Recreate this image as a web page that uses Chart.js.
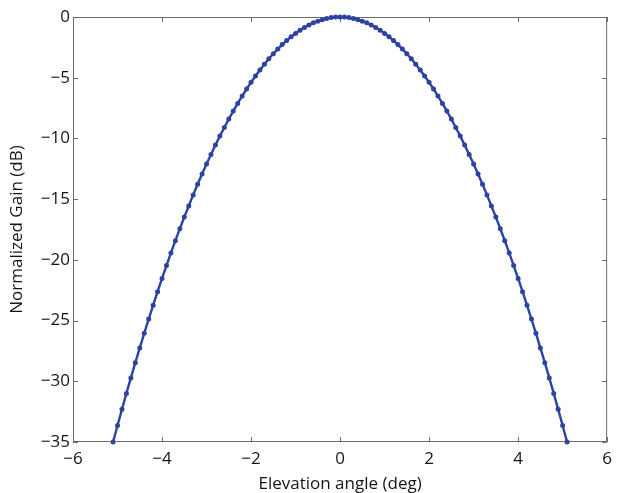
<!DOCTYPE html>
<html>
<head>
<meta charset="utf-8">
<script src="https://cdn.jsdelivr.net/npm/chart.js@4.4.1/dist/chart.umd.min.js"></script>
<style>
  html, body { margin: 0; padding: 0; background: #fff; }
  #gainChart { display: block; }
</style>
</head>
<body>
<canvas id="gainChart" width="619" height="493"></canvas>
<script>
// elevation cut of the beam, sampled every 0.1 deg
const angles = [
  -5.1, -5.0, -4.9, -4.8, -4.7, -4.6, -4.5, -4.4, -4.3, -4.2, -4.1,
  -4.0, -3.9, -3.8, -3.7, -3.6, -3.5, -3.4, -3.3, -3.2, -3.1,
  -3.0, -2.9, -2.8, -2.7, -2.6, -2.5, -2.4, -2.3, -2.2, -2.1,
  -2.0, -1.9, -1.8, -1.7, -1.6, -1.5, -1.4, -1.3, -1.2, -1.1,
  -1.0, -0.9, -0.8, -0.7, -0.6, -0.5, -0.4, -0.3, -0.2, -0.1,
  0.0,
  0.1, 0.2, 0.3, 0.4, 0.5, 0.6, 0.7, 0.8, 0.9, 1.0,
  1.1, 1.2, 1.3, 1.4, 1.5, 1.6, 1.7, 1.8, 1.9, 2.0,
  2.1, 2.2, 2.3, 2.4, 2.5, 2.6, 2.7, 2.8, 2.9, 3.0,
  3.1, 3.2, 3.3, 3.4, 3.5, 3.6, 3.7, 3.8, 3.9, 4.0,
  4.1, 4.2, 4.3, 4.4, 4.5, 4.6, 4.7, 4.8, 4.9, 5.0, 5.1
];
const gains = [
  -35.00, -33.64, -32.31, -31.00, -29.72, -28.47, -27.25, -26.05, -24.88, -23.74, -22.62,
  -21.53, -20.47, -19.43, -18.42, -17.44, -16.48, -15.56, -14.65, -13.78, -12.93,
  -12.11, -11.32, -10.55, -9.81, -9.10, -8.41, -7.75, -7.12, -6.51, -5.93,
  -5.38, -4.86, -4.36, -3.89, -3.44, -3.03, -2.64, -2.27, -1.94, -1.63,
  -1.35, -1.09, -0.86, -0.66, -0.48, -0.34, -0.22, -0.12, -0.05, -0.01,
  0.00,
  -0.01, -0.05, -0.12, -0.22, -0.34, -0.48, -0.66, -0.86, -1.09, -1.35,
  -1.63, -1.94, -2.27, -2.64, -3.03, -3.44, -3.89, -4.36, -4.86, -5.38,
  -5.93, -6.51, -7.12, -7.75, -8.41, -9.10, -9.81, -10.55, -11.32, -12.11,
  -12.93, -13.78, -14.65, -15.56, -16.48, -17.44, -18.42, -19.43, -20.47, -21.53,
  -22.62, -23.74, -24.88, -26.05, -27.25, -28.47, -29.72, -31.00, -32.31, -33.64, -35.00
];
const xTicks = [-6, -4, -2, 0, 2, 4, 6];
const yTicks = [-35, -30, -25, -20, -15, -10, -5, 0];

const lineBlue = '#2d43a2';
const frameGray = '#6a6a6a';

const minusLabel = v => (v < 0 ? '\u2212' + Math.abs(v) : String(v));

// box around the axes with short inward ticks on every side
const boxFrame = {
  id: 'boxFrame',
  beforeDatasetsDraw(chart) {
    const { ctx, chartArea: a, scales } = chart;
    const len = 5;
    ctx.save();
    ctx.strokeStyle = frameGray;
    ctx.lineWidth = 1;
    ctx.beginPath();
    ctx.rect(a.left + 0.5, a.top + 0.5, a.right - a.left - 1, a.bottom - a.top - 1);
    scales.x.ticks.forEach(t => {
      const px = Math.round(scales.x.getPixelForValue(t.value)) + 0.5;
      ctx.moveTo(px, a.bottom); ctx.lineTo(px, a.bottom - len);
      ctx.moveTo(px, a.top); ctx.lineTo(px, a.top + len);
    });
    scales.y.ticks.forEach(t => {
      const py = Math.round(scales.y.getPixelForValue(t.value)) + 0.5;
      ctx.moveTo(a.left, py); ctx.lineTo(a.left + len, py);
      ctx.moveTo(a.right, py); ctx.lineTo(a.right - len, py);
    });
    ctx.stroke();
    ctx.restore();
  }
};

Chart.defaults.font.family = '"Open Sans", "Noto Sans", sans-serif';
Chart.defaults.color = '#151515';

new Chart(document.getElementById('gainChart'), {
  type: 'scatter',
  data: {
    datasets: [{
      data: angles.map((a, i) => ({ x: a, y: gains[i] })),
      showLine: true,
      borderColor: lineBlue,
      backgroundColor: lineBlue,
      borderWidth: 2.4,
      pointRadius: 2.5,
      pointBorderWidth: 0,
      tension: 0,
      clip: 3
    }]
  },
  options: {
    responsive: false,
    animation: false,
    events: [],
    layout: { padding: { top: 17, right: 6, left: 0, bottom: 0 } },
    plugins: {
      legend: { display: false },
      tooltip: { enabled: false }
    },
    scales: {
      x: {
        type: 'linear',
        min: -6,
        max: 6,
        afterBuildTicks: s => { s.ticks = xTicks.map(v => ({ value: v })); },
        afterFit: s => { s.height = 51; },
        grid: { display: false, drawTicks: false },
        border: { display: false },
        ticks: { padding: 7, font: { size: 17 }, callback: minusLabel },
        title: {
          display: true,
          text: 'Elevation angle (deg)',
          font: { size: 17, lineHeight: 1 },
          padding: { top: 0, bottom: 0 }
        }
      },
      y: {
        type: 'linear',
        min: -35,
        max: 0,
        afterBuildTicks: s => { s.ticks = yTicks.map(v => ({ value: v })); },
        afterFit: s => { s.width = 73; },
        grid: { display: false, drawTicks: false },
        border: { display: false },
        ticks: { padding: 3, font: { size: 17 }, callback: minusLabel },
        title: {
          display: true,
          text: 'Normalized Gain (dB)',
          font: { size: 17, lineHeight: 1 },
          padding: { top: 9, bottom: 0 }
        }
      }
    }
  },
  plugins: [boxFrame]
});
</script>
</body>
</html>
